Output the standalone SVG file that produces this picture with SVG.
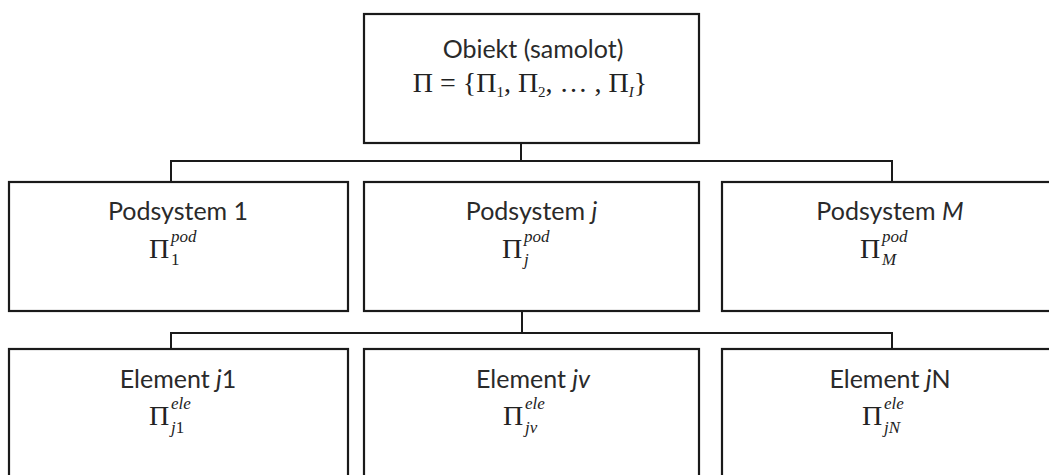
<svg xmlns="http://www.w3.org/2000/svg" width="1049" height="475" viewBox="0 0 1049 475">
<style>
.box{fill:#fff;stroke:#1a1a1a;stroke-width:2.2}
.lbl{font-family:Lato,"Open Sans",sans-serif;font-size:25px;fill:#2a2a2a;text-anchor:middle}
.m{font-family:"Liberation Serif","DejaVu Serif",serif;font-size:28px;fill:#222}
.s{font-family:"Liberation Serif","DejaVu Serif",serif;font-size:17px;font-style:italic;fill:#222}
.it{font-style:italic}
.up{font-style:normal}
.con{fill:none;stroke:#1a1a1a;stroke-width:2}
</style>
<rect width="1049" height="475" fill="#fff"/>
<g id="connectors">
<path class="con" d="M521 143V161M171 182V161H892V182"/>
<path class="con" d="M522 311V333M171 349V333H892V349"/>
</g>
<g id="obiekt">
<rect class="box" x="364" y="14" width="335" height="129"/>
<text class="lbl" x="533" y="58">Obiekt (samolot)</text>
<text class="m" x="530" y="92" text-anchor="middle">Π = {Π<tspan font-size="15" dy="5">1</tspan><tspan dy="-5">, Π</tspan><tspan font-size="15" dy="5">2</tspan><tspan dy="-5">, … , Π</tspan><tspan font-size="15" dy="5" class="it">I</tspan><tspan dy="-5">}</tspan></text>
</g>
<g id="pod1">
<rect class="box" x="9" y="182" width="339" height="129"/>
<text class="lbl" x="178" y="220">Podsystem 1</text>
<text class="m" x="149" y="258">Π</text>
<text class="s" x="171" y="242">pod</text>
<text class="s up" x="171" y="265">1</text>
</g>
<g id="podj">
<rect class="box" x="364" y="182" width="335" height="129"/>
<text class="lbl" x="531.5" y="220">Podsystem <tspan class="it">j</tspan></text>
<text class="m" x="502" y="258">Π</text>
<text class="s" x="524" y="242">pod</text>
<text class="s" x="524" y="265">j</text>
</g>
<g id="podM">
<rect class="box" x="722" y="182" width="340" height="129"/>
<text class="lbl" x="890" y="220">Podsystem <tspan class="it">M</tspan></text>
<text class="m" x="860" y="258">Π</text>
<text class="s" x="882" y="242">pod</text>
<text class="s" x="882" y="265">M</text>
</g>
<g id="elej1">
<rect class="box" x="9" y="349" width="339" height="140"/>
<text class="lbl" x="178" y="388">Element <tspan class="it">j</tspan>1</text>
<text class="m" x="149" y="425">Π</text>
<text class="s" x="171" y="409">ele</text>
<text class="s" x="171" y="433">j<tspan class="up">1</tspan></text>
</g>
<g id="elejv">
<rect class="box" x="364" y="349" width="335" height="140"/>
<text class="lbl" x="533" y="388">Element <tspan class="it">jv</tspan></text>
<text class="m" x="503" y="425">Π</text>
<text class="s" x="525" y="409">ele</text>
<text class="s" x="525" y="433">jv</text>
</g>
<g id="elejN">
<rect class="box" x="722" y="349" width="340" height="140"/>
<text class="lbl" x="890" y="388">Element <tspan class="it">j</tspan>N</text>
<text class="m" x="862" y="425">Π</text>
<text class="s" x="884" y="409">ele</text>
<text class="s" x="884" y="433">jN</text>
</g>
</svg>
